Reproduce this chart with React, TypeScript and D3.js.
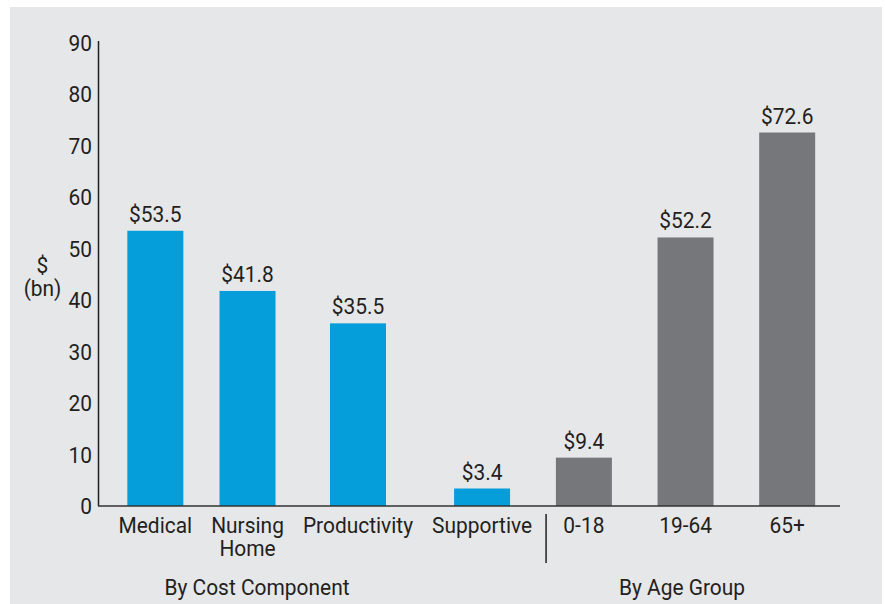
import React, { useRef, useEffect } from 'react';
import * as d3 from 'd3';

const costCategories = ['Medical', 'Nursing Home', 'Productivity', 'Supportive'];
const costValues = [53.5, 41.8, 35.5, 3.4];
const ageCategories = ['0-18', '19-64', '65+'];
const ageValues = [9.4, 52.2, 72.6];
const groupTitles = ['By Cost Component', 'By Age Group'];
const yTicks = [0, 10, 20, 30, 40, 50, 60, 70, 80, 90];

const W = 885;
const H = 604;
const FONT = 'Roboto, "Liberation Sans", sans-serif';
const INK = '#231f20';
const BLUE = '#069ddb';
const GREY = '#76777b';
const SQUEEZE = 0.93;
const BAR_W = 56;

// condensed-looking text: taller glyphs squeezed horizontally; lines stack as tspans
const label = (
  parent: d3.Selection<any, any, any, any>,
  x: number,
  y: number,
  lines: string[],
  anchor = 'middle'
) => {
  const t = parent.append('text')
    .attr('transform', `translate(${x},${y}) scale(${SQUEEZE},1)`)
    .attr('text-anchor', anchor)
    .style('font-family', FONT)
    .style('font-size', '22.5px')
    .attr('fill', INK);
  lines.forEach((s, k) => {
    t.append('tspan').attr('x', 0).attr('y', k * 23).text(s);
  });
  return t;
};

const App = () => {
  const svgRef = useRef<SVGSVGElement>(null);

  useEffect(() => {
    const svg = d3.select(svgRef.current);
    svg.selectAll('*').remove();

    const measure = (s: string) => {
      const t = label(svg, 0, 0, [s]);
      const w = (t.node() as SVGTextElement).getComputedTextLength() * SQUEEZE;
      t.remove();
      return w;
    };

    // panel background
    svg.append('rect')
      .attr('x', 10).attr('y', 7)
      .attr('width', 872).attr('height', H - 7)
      .attr('fill', '#e6e7e9');

    const y = d3.scaleLinear().domain([0, 90]).range([506, 43]);
    const axisX = 98.5;

    // cost bars are spaced by their label widths
    const gap = 19;
    const slotW = costCategories.map(c => Math.max(BAR_W, d3.max(c.split(' '), measure)!));
    const costCenters: number[] = [];
    slotW.reduce((left, w) => {
      costCenters.push(left + w / 2);
      return left + w + gap;
    }, axisX + 20);
    const xCost = d3.scaleOrdinal<string, number>().domain(costCategories).range(costCenters);

    const divX = costCenters[costCenters.length - 1] + slotW[slotW.length - 1] / 2 + 14;

    const xAge = d3.scaleBand<string>()
      .domain(ageCategories)
      .range([divX - 13, 838])
      .paddingInner(0.451)
      .paddingOuter(0.2255);

    const panels = [
      { cats: costCategories, vals: costValues, cx: (c: string) => xCost(c), color: BLUE },
      { cats: ageCategories, vals: ageValues, cx: (c: string) => xAge(c)! + xAge.bandwidth() / 2, color: GREY },
    ];

    panels.forEach(p => {
      const g = svg.append('g');
      g.selectAll('rect')
        .data(p.cats)
        .enter().append('rect')
        .attr('x', d => p.cx(d) - BAR_W / 2)
        .attr('y', (d, i) => y(p.vals[i]))
        .attr('width', BAR_W)
        .attr('height', (d, i) => y(0) - y(p.vals[i]))
        .attr('fill', p.color);

      p.cats.forEach((c, i) => {
        const cx = p.cx(c);
        label(g, cx, y(p.vals[i]) - 9, [`$${p.vals[i].toFixed(1)}`]);
        label(g, cx, 533, c.split(' '));
      });
    });

    // y axis
    svg.append('line')
      .attr('x1', axisX).attr('x2', axisX)
      .attr('y1', y(90) - 2).attr('y2', y(0))
      .attr('stroke', INK).attr('stroke-width', 1.5);

    yTicks.forEach(t => label(svg, 92, y(t) + 8, [String(t)], 'end'));

    // baseline
    svg.append('line')
      .attr('x1', axisX - 0.5).attr('x2', 840)
      .attr('y1', y(0)).attr('y2', y(0))
      .attr('stroke', '#333').attr('stroke-width', 1.5);

    // unit label
    label(svg, 42.5, 273, ['$', '(bn)']);

    // divider between groups
    svg.append('line')
      .attr('x1', divX).attr('x2', divX)
      .attr('y1', 514).attr('y2', 563)
      .attr('stroke', INK).attr('stroke-width', 1.5);

    // group titles
    label(svg, 257, 595, [groupTitles[0]]);
    label(svg, 682, 595, [groupTitles[1]]);
  }, []);

  return (
    <svg
      ref={svgRef}
      width={W}
      height={H}
      style={{ position: 'absolute', left: 0, top: 0, background: '#fff' }}
    />
  );
};

export default App;
